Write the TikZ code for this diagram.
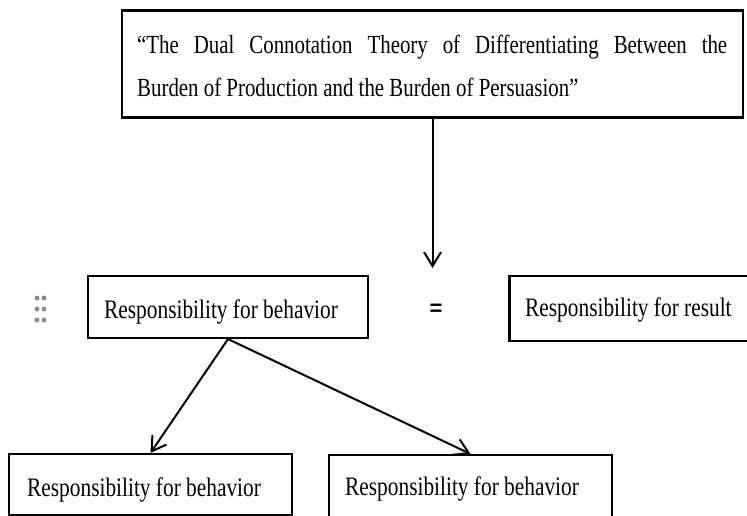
\documentclass[tikz,border=0pt]{standalone}
\usepackage{fontspec}
\setmainfont[FakeStretch=0.8]{Liberation Serif}
\newfontfamily\signfont{Liberation Sans}
\usetikzlibrary{arrows.meta}
\definecolor{dotgray}{HTML}{8C8C8C}
\tikzset{
  frame/.style={draw=black, line width=2.1pt, inner sep=0pt},
  boxtext/.style={inner sep=0pt, font=\fontsize{26.7}{43}\selectfont},
  link/.style={line width=2pt, -{Straight Barb[length=14pt,width=17pt]}},
}

\begin{document}
\begin{tikzpicture}[x=1pt,y=-1pt]
        \useasboundingbox (0,0) rectangle (747,516);
        \clip (0,0) rectangle (747,516);
        % theory box
        \node[frame, minimum width=621pt, minimum height=107pt] (theory) at (432.5,64) {};
        \node[boxtext, font=\fontsize{26.1}{43}\selectfont, text width=590pt, align=justify, anchor=base west] (theorytext) at (137,54)
          {“The Dual Connotation Theory of Differentiating Between the\linebreak Burden of Production and the Burden of Persuasion”};
        % middle row
        \node[frame, minimum width=280pt, minimum height=62pt] (behavior) at (228,307) {};
        \node[boxtext, anchor=base west] (behaviortext) at (104,318) {Responsibility for behavior};
        \node[boxtext, font=\signfont\fontsize{22}{26}\selectfont\bfseries] (equals) at (436,310) {=};
        \node[frame, minimum width=250pt, minimum height=65pt] (result) at (634.5,308.5) {};
        \node[boxtext, anchor=base west] (resulttext) at (525,316) {Responsibility for result};
        % bottom row
        \node[frame, minimum width=283pt, minimum height=61pt] (leftchild) at (150.5,484.5) {};
        \node[boxtext, anchor=base west] (lefttext) at (27,496) {Responsibility for behavior};
        \node[frame, minimum width=283pt, minimum height=62pt] (rightchild) at (470.5,486) {};
        \node[boxtext, anchor=base west] (righttext) at (345,495) {Responsibility for behavior};
        % handle dots
        \foreach \row in {298,309,320}
          \foreach \col in {37,44}
            \fill[dotgray] (\col,\row) circle (2.5pt);
        % arrows
        \coordinate (drop) at (432.5,268);
        \draw[link] (theory.south) -- (drop);
        \draw[link] (behavior.south) -- (leftchild.north);
        \draw[link] (behavior.south) -- (rightchild.north);
\end{tikzpicture}
\end{document}
